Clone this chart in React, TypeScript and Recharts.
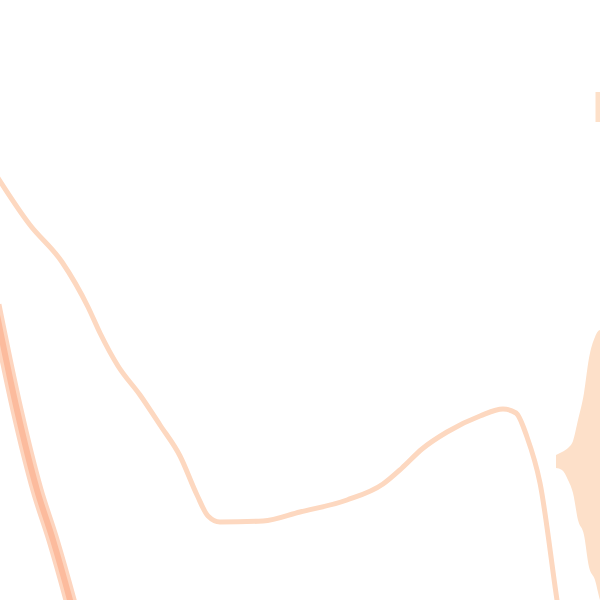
import React from "react";
import { ComposedChart, Line, Area, XAxis, YAxis } from "recharts";

// main curve: x position vs depth (depth grows downward)
const mainX = [-14, 30, 62, 88, 100, 118, 140, 160, 180, 197, 208, 220, 263, 300, 347, 383, 402, 422, 447, 480, 503, 516, 527, 540, 557, 560];
const mainDepth = [159, 225, 262, 307, 333, 366, 395, 425, 456, 495, 516, 522, 521, 512, 500, 484, 468, 449, 432, 416, 409, 413, 437, 483, 600, 620];

// steep line on the left
const steepX = [-5, 17, 37, 53, 70, 74];
const steepDepth = [305, 410, 490, 540, 600, 615];

// blob at right edge
const blobX = [556, 562, 568, 573, 578, 584, 589, 595, 600, 610];
const blobTop = [455, 452, 448, 441, 420, 393, 358, 337, 330, 330];
const blobBottom = [468, 470, 480, 493, 520, 535, 567, 580, 600, 620];

// small mark at top right
const markX = [598, 598];
const markDepth = [92, 122];

const mainData = mainX.map((x, i) => ({ x, d: mainDepth[i] }));
const steepData = steepX.map((x, i) => ({ x, d: steepDepth[i] }));
const blobData = blobX.map((x, i) => ({ x, band: [blobBottom[i], blobTop[i]] }));
const markData = markX.map((x, i) => ({ x, d: markDepth[i] }));

export default function App() {
  return (
    <div style={{ position: "absolute", left: 0, top: 0, width: 600, height: 600, overflow: "hidden", background: "#ffffff" }}>
      <div style={{ position: "absolute", left: -20, top: -20 }}>
        <ComposedChart width={640} height={640} margin={{ top: 0, right: 0, bottom: 0, left: 0 }}>
          <XAxis type="number" dataKey="x" domain={[-20, 620]} hide allowDataOverflow />
          <YAxis type="number" domain={[-20, 620]} reversed hide allowDataOverflow />
          <Area
            data={blobData}
            dataKey="band"
            type="monotone"
            stroke="none"
            fill="#fde0c9"
            fillOpacity={1}
            activeDot={false}
            isAnimationActive={false}
          />
          <Line
            data={steepData}
            dataKey="d"
            type="monotone"
            stroke="#fdd5bf"
            strokeWidth={13}
            dot={false}
            activeDot={false}
            isAnimationActive={false}
          />
          <Line
            data={steepData}
            dataKey="d"
            type="monotone"
            stroke="#fcbb9d"
            strokeWidth={6}
            dot={false}
            activeDot={false}
            isAnimationActive={false}
          />
          <Line
            data={mainData}
            dataKey="d"
            type="monotone"
            stroke="#fdd8c0"
            strokeWidth={5}
            dot={false}
            activeDot={false}
            isAnimationActive={false}
          />
          <Line
            data={markData}
            dataKey="d"
            type="linear"
            stroke="#fde0c9"
            strokeWidth={5}
            dot={false}
            activeDot={false}
            isAnimationActive={false}
          />
        </ComposedChart>
      </div>
    </div>
  );
}
